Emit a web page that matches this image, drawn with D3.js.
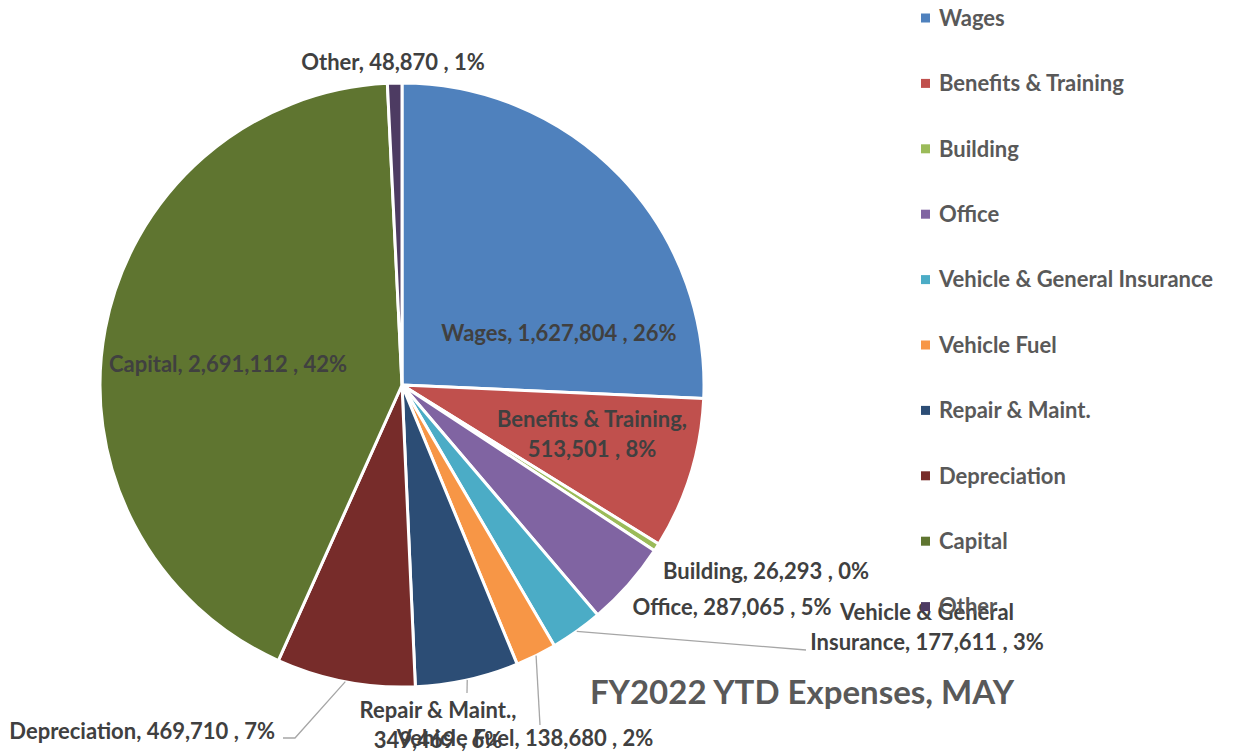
<!DOCTYPE html>
<html>
<head>
<meta charset="utf-8">
<script src="https://cdn.jsdelivr.net/npm/d3@7"></script>
<style>
  body { margin: 0; background: #fff; }
  svg text { font-family: Lato, "Open Sans", sans-serif; font-weight: bold; }
</style>
</head>
<body>
<div id="chart"></div>
<script>
// Chart data
var categories = ['Wages', 'Benefits & Training', 'Building', 'Office', 'Vehicle & General Insurance',
  'Vehicle Fuel', 'Repair & Maint.', 'Depreciation', 'Capital', 'Other'];
var values = [1627804, 513501, 26293, 287065, 177611, 138680, 349469, 469710, 2691112, 48870];
var colors = ['#4F81BD', '#C0504D', '#9BBB59', '#8064A2', '#4BACC6',
  '#F79646', '#2C4D75', '#772C2A', '#5F7530', '#4D3B62'];
var title = 'FY2022 YTD Expenses, MAY';

// Label layout relative to pie center (text lines, anchor, leader elbow points)
var labelLayout = [
  { lines: ['Wages, 1,627,804 , 26%'], dx: 157, dy: -52 },
  { lines: ['Benefits & Training,', '513,501 , 8%'], dx: 190, dy: 34 },
  { lines: ['Building, 26,293 , 0%'], dx: 261, dy: 186, anchor: 'start' },
  { lines: ['Office, 287,065 , 5%'], dx: 330, dy: 222 },
  { lines: ['Vehicle & General', 'Insurance, 177,611 , 3%'], dx: 525, dy: 227, leader: [[404, 265]] },
  { lines: ['Vehicle Fuel, 138,680 , 2%'], dx: 123, dy: 353, leader: [[138, 340]] },
  { lines: ['Repair & Maint.,', '349,469 , 6%'], dx: 36, dy: 325, leader: [[65, 308]] },
  { lines: ['Depreciation, 469,710 , 7%'], dx: -127, dy: 346, anchor: 'end', leader: [[-107, 353], [-119, 353]] },
  { lines: ['Capital, 2,691,112 , 42%'], dx: -174, dy: -21 },
  { lines: ['Other, 48,870 , 1%'], dx: -9, dy: -323 }
];

var width = 1235, height = 755;
var cx = 402, cy = 385, radius = 302;

var svg = d3.select('#chart').append('svg')
  .attr('width', width).attr('height', height);

var pie = d3.pie().sort(null).value(d => d.value);
var arcs = pie(categories.map((c, i) => ({ name: c, value: values[i] })));
var arc = d3.arc().innerRadius(0).outerRadius(radius);
var edge = d3.arc().innerRadius(radius).outerRadius(radius);

var g = svg.append('g').attr('transform', 'translate(' + cx + ',' + cy + ')');

// Slices
g.selectAll('path.slice').data(arcs).enter().append('path')
  .attr('class', 'slice')
  .attr('d', arc)
  .attr('fill', (d, i) => colors[i])
  .attr('stroke', '#fff').attr('stroke-width', 3).attr('stroke-linejoin', 'round');

// Leader lines
arcs.forEach(function(d, i) {
  var lay = labelLayout[i];
  if (!lay.leader) return;
  var pts = [edge.centroid(d)].concat(lay.leader);
  g.append('path')
    .attr('d', d3.line()(pts))
    .attr('fill', 'none').attr('stroke', '#A6A6A6').attr('stroke-width', 1.3);
});

// Data labels
var lineH = 30;
arcs.forEach(function(d, i) {
  var lay = labelLayout[i];
  var t = g.append('text')
    .attr('text-anchor', lay.anchor || 'middle')
    .attr('fill', '#404040')
    .style('font-size', '22px');
  lay.lines.forEach(function(s, k) {
    t.append('tspan').attr('x', lay.dx).attr('y', lay.dy + k * lineH)
      .attr('dy', '0.35em').text(s);
  });
});

// Legend
var legend = svg.append('g').attr('transform', 'translate(921,18)');
var rowH = 65.4;
categories.forEach(function(c, i) {
  var row = legend.append('g').attr('transform', 'translate(0,' + (i * rowH) + ')');
  row.append('rect').attr('x', 0).attr('y', -4.5).attr('width', 9).attr('height', 9)
    .attr('fill', colors[i]);
  row.append('text').attr('x', 18).attr('dy', '0.35em')
    .attr('fill', '#595959').style('font-size', '22px').text(c);
});

// Title
svg.append('text')
  .attr('x', 802).attr('y', 692).attr('dy', '0.35em')
  .attr('text-anchor', 'middle')
  .attr('fill', '#595959')
  .style('font-size', '33px')
  .text(title);
</script>
</body>
</html>
